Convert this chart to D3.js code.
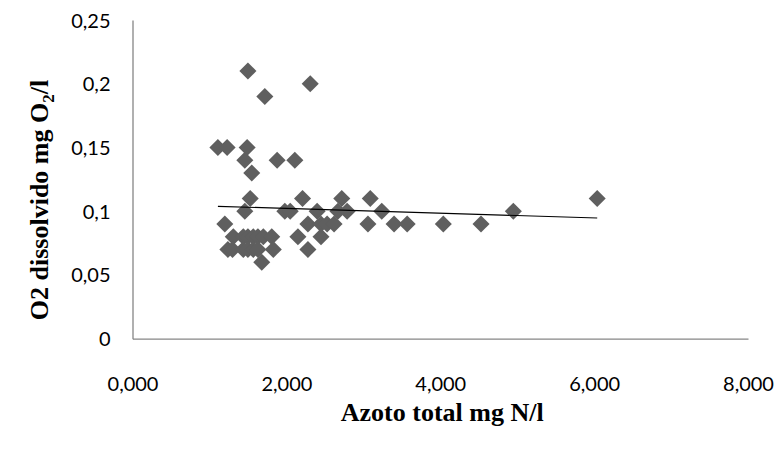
<!DOCTYPE html>
<html>
<head>
<meta charset="utf-8">
<script src="https://cdn.jsdelivr.net/npm/d3@7/dist/d3.min.js"></script>
<style>
  html, body { margin: 0; padding: 0; background: #fff; }
  svg { display: block; }
</style>
</head>
<body>
<svg id="chart" width="779" height="450"></svg>
<script>
// Total nitrogen (mg N/l) against dissolved oxygen (mg O2/l)
const azotoTotal = [
  1.50, 2.31, 1.72,
  1.11, 1.23, 1.49,
  1.46, 1.88, 2.11,
  1.55,
  1.53, 2.21, 2.72, 3.09, 6.04,
  1.46, 1.98, 2.05, 2.40, 2.67, 2.79, 3.24, 4.95,
  1.20, 2.28, 2.45, 2.53, 2.62, 3.06, 3.40, 3.57, 4.04, 4.53,
  1.31, 1.44, 1.50, 1.57, 1.63, 1.70, 1.81, 2.15, 2.45,
  1.24, 1.30, 1.44, 1.50, 1.57, 1.63, 1.83, 2.28,
  1.68
];
const o2Dissolvido = [
  0.21, 0.20, 0.19,
  0.15, 0.15, 0.15,
  0.14, 0.14, 0.14,
  0.13,
  0.11, 0.11, 0.11, 0.11, 0.11,
  0.10, 0.10, 0.10, 0.10, 0.10, 0.10, 0.10, 0.10,
  0.09, 0.09, 0.09, 0.09, 0.09, 0.09, 0.09, 0.09, 0.09, 0.09,
  0.08, 0.08, 0.08, 0.08, 0.08, 0.08, 0.08, 0.08, 0.08,
  0.07, 0.07, 0.07, 0.07, 0.07, 0.07, 0.07, 0.07,
  0.06
];
const xTicks = [0, 2, 4, 6, 8];
const yTicks = [0, 0.05, 0.1, 0.15, 0.2, 0.25];
const xTickLabels = ["0,000", "2,000", "4,000", "6,000", "8,000"];
const yTickLabels = ["0", "0,05", "0,1", "0,15", "0,2", "0,25"];

const svg = d3.select("#chart");
const plot = { left: 132.5, right: 748, top: 20, bottom: 338.7 };

const x = d3.scaleLinear().domain([0, 8]).range([plot.left, plot.right]);
const y = d3.scaleLinear().domain([0, 0.25]).range([plot.bottom, plot.top]);

const axisColor = "#868686";
const labelFont = "Lato, 'Open Sans', sans-serif";

// Axes: plain lines, no tick marks
const xAxis = d3.axisBottom(x).tickValues(xTicks).tickSize(0).tickPadding(0)
  .tickFormat((d, i) => xTickLabels[i]);
const gx = svg.append("g").attr("transform", `translate(0,${plot.bottom})`).call(xAxis);
gx.select(".domain").attr("stroke", axisColor).attr("stroke-width", 1.3);
gx.selectAll("text")
  .attr("dy", null).attr("y", 52)
  .attr("fill", "#000").style("font", `20px ${labelFont}`);

const yAxis = d3.axisLeft(y).tickValues(yTicks).tickSize(0).tickPadding(0)
  .tickFormat((d, i) => yTickLabels[i]);
const gy = svg.append("g").attr("transform", `translate(${plot.left},0)`).call(yAxis);
gy.select(".domain").attr("stroke", axisColor).attr("stroke-width", 1.3);
gy.selectAll("text")
  .attr("x", -22).attr("dy", "0.35em")
  .attr("fill", "#000").style("font", `20px ${labelFont}`);

// Scatter points as diamonds
const pts = azotoTotal.map((v, i) => ({ x: v, y: o2Dissolvido[i] }));
const diamond = d3.symbol().type(d3.symbolDiamond2).size(185);
svg.append("g").selectAll("path").data(pts).join("path")
  .attr("d", diamond)
  .attr("transform", d => `translate(${x(d.x)},${y(d.y)})`)
  .attr("fill", "#5f5f5f");

// Linear least-squares trendline across the data range
const mx = d3.mean(pts, d => d.x), my = d3.mean(pts, d => d.y);
const slope = d3.sum(pts, d => (d.x - mx) * (d.y - my)) / d3.sum(pts, d => (d.x - mx) ** 2);
const icpt = my - slope * mx;
const [xmin, xmax] = d3.extent(pts, d => d.x);
svg.append("line")
  .attr("x1", x(xmin)).attr("y1", y(icpt + slope * xmin))
  .attr("x2", x(xmax)).attr("y2", y(icpt + slope * xmax))
  .attr("stroke", "#000").attr("stroke-width", 1.2);

// Axis titles
const titleFont = "bold 26px 'Liberation Serif', 'Times New Roman', serif";
svg.append("text")
  .attr("x", (plot.left + plot.right) / 2 + 2).attr("y", 421)
  .attr("text-anchor", "middle")
  .style("font", titleFont)
  .text("Azoto total mg N/l");

const yt = svg.append("text")
  .attr("transform", `translate(48,200) rotate(-90)`)
  .attr("text-anchor", "middle")
  .style("font", titleFont);
yt.append("tspan").text("O2 dissolvido mg O");
yt.append("tspan").attr("dy", 6).style("font-size", "17px").text("2");
yt.append("tspan").attr("dy", -6).text("/l");
</script>
</body>
</html>
